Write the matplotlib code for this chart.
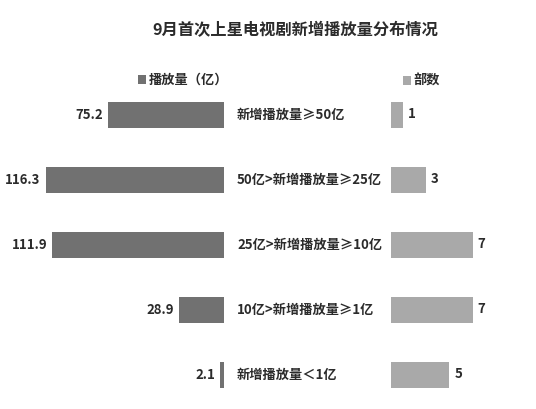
import matplotlib
matplotlib.use("Agg")
import matplotlib.pyplot as plt
from matplotlib.transforms import blended_transform_factory

plt.rcParams['font.family'] = ['Noto Sans CJK SC', 'DejaVu Sans']

title = "9月首次上星电视剧新增播放量分布情况"
categories = ["新增播放量≥50亿", "50亿>新增播放量≥25亿", "25亿>新增播放量≥10亿",
              "10亿>新增播放量≥1亿", "新增播放量＜1亿"]
plays = [75.2, 116.3, 111.9, 28.9, 2.1]
counts = [1, 3, 7, 7, 5]
plays_name = "播放量（亿）"
counts_name = "部数"

dark = "#717171"
light = "#a9a9a9"
txt = "#2b2b2b"

W, H = 536, 409
fig = plt.figure(figsize=(W / 100, H / 100), dpi=100)
fig.patch.set_facecolor("white")

def fx(px):
    return px / W

row_top, row_bot = 82.5, 407.5
bottom = (H - row_bot) / H
height = (row_bot - row_top) / H

# left axes (plays), right edge at 223.5 px, 1.53 px per unit
axL = fig.add_axes([0, bottom, fx(223.5), height])
axR = fig.add_axes([fx(391), bottom, fx(145), height])

ypos = list(range(len(categories)))
barsL = axL.barh(ypos, plays, height=0.4, color=dark, label=plays_name)
barsR = axR.barh(ypos, counts, height=0.4, color=light, label=counts_name)

axL.set_xlim(223.5 / 1.53, 0)
axR.set_xlim(0, 145 / 11.67)
for ax in (axL, axR):
    ax.set_ylim(len(categories) - 0.5, -0.5)
    ax.axis("off")

for y, v in zip(ypos, plays):
    axL.annotate(f"{v:.1f}", xy=(v, y), xytext=(-5, 0), textcoords="offset pixels",
                 ha="right", va="center", fontsize=9.5, fontweight="bold", color=txt)
for y, v in zip(ypos, counts):
    axR.annotate(f"{v}", xy=(v, y), xytext=(5, 1), textcoords="offset pixels",
                 ha="left", va="center", fontsize=9.5, fontweight="bold", color=txt)

trans = blended_transform_factory(fig.transFigure, axL.transData)
for y, c in zip(ypos, categories):
    axL.text(fx(237), y, c, transform=trans, ha="left", va="center",
             fontsize=9.5, fontweight="bold", color=txt, clip_on=False)

fig.text(fx(295.5), 1 - 30 / H, title, ha="center", va="center",
         fontsize=11.7, fontweight="bold", color=txt)

fig.legend(handles=[barsL], labels=[plays_name], loc="center left",
           bbox_to_anchor=(fx(126), 1 - 80 / H), frameon=False,
           handlelength=0.6, handleheight=0.6, handletextpad=0.2,
           prop={"size": 9.5, "weight": "bold"}, labelcolor=txt)
fig.legend(handles=[barsR], labels=[counts_name], loc="center left",
           bbox_to_anchor=(fx(391), 1 - 81 / H), frameon=False,
           handlelength=0.6, handleheight=0.6, handletextpad=0.2,
           prop={"size": 9.5, "weight": "bold"}, labelcolor=txt)

fig.savefig("out.png", dpi=100, facecolor="white")
